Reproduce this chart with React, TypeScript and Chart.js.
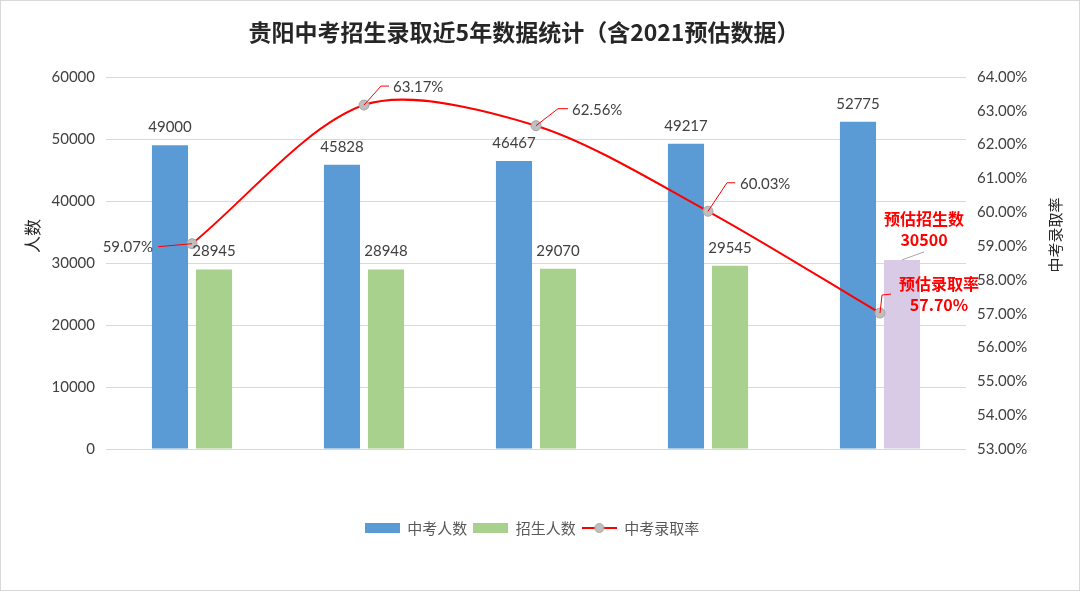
import { useEffect, useRef } from 'react';
import { Chart, registerables } from 'chart.js';

Chart.register(...registerables);

// ---------- data ----------
const years = ['2017', '2018', '2019', '2020', '2021'];
const examinees = [49000, 45828, 46467, 49217, 52775];
const enrolled = [28945, 28948, 29070, 29545, 30500];
const admissionRate = [59.07, 63.17, 62.56, 60.03, 57.02];
const rateLabels = ['59.07%', '63.17%', '62.56%', '60.03%', '57.70%'];
const seriesNames = ['中考人数', '招生人数', '中考录取率'];
const chartTitle = '贵阳中考招生录取近5年数据统计（含2021预估数据）';
const leftAxisTitle = '人数';
const rightAxisTitle = '中考录取率';
const estimateEnrollTitle = '预估招生数';
const estimateRateTitle = '预估录取率';

// ---------- style ----------
const CJK = '"Noto Sans CJK SC", "Noto Sans", sans-serif';
const NUM = 'Lato, "Noto Sans CJK SC", sans-serif';
const BLUE = '#5B9BD5';
const GREEN = '#A9D18E';
const PURPLE = '#D9CBE6';
const RED = '#FF0000';
const TEXT = '#404040';

function makeSwatch(kind: 'blue' | 'green' | 'line'): HTMLCanvasElement {
  const c = document.createElement('canvas');
  c.width = 35;
  c.height = 12;
  const g = c.getContext('2d')!;
  if (kind === 'line') {
    g.strokeStyle = RED;
    g.lineWidth = 2;
    g.beginPath();
    g.moveTo(0, 6);
    g.lineTo(35, 6);
    g.stroke();
    g.beginPath();
    g.arc(17.5, 6, 4.5, 0, Math.PI * 2);
    g.fillStyle = '#BFBFBF';
    g.fill();
    g.strokeStyle = '#A5A5A5';
    g.lineWidth = 1;
    g.stroke();
  } else {
    g.fillStyle = kind === 'blue' ? BLUE : GREEN;
    g.fillRect(0, 1, 35, 10);
  }
  return c;
}

const decorPlugin = {
  id: 'decor',
  afterDraw(chart: any) {
    const ctx = chart.ctx as CanvasRenderingContext2D;
    const W = chart.width;
    const H = chart.height;
    ctx.save();
    ctx.strokeStyle = '#D9D9D9';
    ctx.lineWidth = 1;
    ctx.strokeRect(0.5, 0.5, W - 1, H - 1);
    ctx.fillStyle = '#262626';
    ctx.font = `bold 23px ${CJK}`;
    ctx.textAlign = 'center';
    ctx.textBaseline = 'middle';
    ctx.fillText(chartTitle, 524, 32);
    ctx.font = `17px ${CJK}`;
    ctx.save();
    ctx.translate(33, 236);
    ctx.rotate(-Math.PI / 2);
    ctx.fillText(leftAxisTitle, 0, 0);
    ctx.restore();
    ctx.font = `15px ${CJK}`;
    ctx.save();
    ctx.translate(1055, 235);
    ctx.rotate(-Math.PI / 2);
    ctx.fillText(rightAxisTitle, 0, 0);
    ctx.restore();
    ctx.restore();
  },
};

// placement of line labels relative to each point: leader polyline, text anchor
const rateLabelLayout = [
  { leader: [[-34, 3], [0, 0]], tx: -39, ty: 3.5, align: 'right' },
  { leader: [[0, 0], [17, -19], [25, -19]], tx: 29, ty: -17.5, align: 'left' },
  { leader: [[0, 0], [22, -17], [32, -17]], tx: 36, ty: -16, align: 'left' },
  { leader: [[0, 0], [19, -28.5], [27, -28.5]], tx: 32, ty: -27.5, align: 'left' },
  { leader: [[0, 0], [2, -18], [11, -19]], tx: 59, ty: -29, align: 'center' },
];

const labelPlugin = {
  id: 'valueLabels',
  afterDatasetsDraw(chart: any) {
    const ctx = chart.ctx as CanvasRenderingContext2D;
    ctx.save();
    ctx.textBaseline = 'middle';
    ctx.textAlign = 'center';
    ctx.font = `15px ${NUM}`;
    ctx.fillStyle = TEXT;
    const m0 = chart.getDatasetMeta(0);
    m0.data.forEach((el: any, i: number) => {
      ctx.fillText(String(examinees[i]), el.x, el.y - 18);
    });
    const m1 = chart.getDatasetMeta(1);
    m1.data.forEach((el: any, i: number) => {
      if (i < enrolled.length - 1) {
        ctx.fillStyle = TEXT;
        ctx.font = `15px ${NUM}`;
        ctx.fillText(String(enrolled[i]), el.x, el.y - 18);
      } else {
        ctx.strokeStyle = '#A6A6A6';
        ctx.lineWidth = 1;
        ctx.beginPath();
        ctx.moveTo(el.x, el.y);
        ctx.lineTo(el.x + 22, el.y - 8);
        ctx.stroke();
        ctx.fillStyle = RED;
        ctx.font = `bold 16px ${CJK}`;
        ctx.fillText(estimateEnrollTitle, el.x + 22, el.y - 41);
        ctx.fillText(String(enrolled[i]), el.x + 22, el.y - 20);
      }
    });
    const m2 = chart.getDatasetMeta(2);
    m2.data.forEach((el: any, i: number) => {
      const L = rateLabelLayout[i];
      ctx.strokeStyle = RED;
      ctx.lineWidth = 1;
      ctx.beginPath();
      L.leader.forEach((p, k) => {
        if (k === 0) ctx.moveTo(el.x + p[0], el.y + p[1]);
        else ctx.lineTo(el.x + p[0], el.y + p[1]);
      });
      ctx.stroke();
      if (i < admissionRate.length - 1) {
        ctx.fillStyle = TEXT;
        ctx.font = `15px ${NUM}`;
        ctx.textAlign = L.align as CanvasTextAlign;
        ctx.fillText(rateLabels[i], el.x + L.tx, el.y + L.ty);
      } else {
        ctx.fillStyle = RED;
        ctx.font = `bold 16px ${CJK}`;
        ctx.textAlign = 'center';
        ctx.fillText(estimateRateTitle, el.x + L.tx, el.y + L.ty);
        ctx.fillText(rateLabels[i], el.x + L.tx, el.y + L.ty + 21);
      }
    });
    ctx.restore();
  },
};

export default function App() {
  const ref = useRef<HTMLCanvasElement | null>(null);

  useEffect(() => {
    if (!ref.current) return;
    const swatches = [makeSwatch('blue'), makeSwatch('green'), makeSwatch('line')];
    const chart = new Chart(ref.current, {
      type: 'bar',
      data: {
        labels: years,
        datasets: [
          {
            type: 'bar',
            label: seriesNames[0],
            data: examinees,
            backgroundColor: BLUE,
            yAxisID: 'y',
            order: 1,
            categoryPercentage: 0.512,
            barPercentage: 0.82,
          },
          {
            type: 'bar',
            label: seriesNames[1],
            data: enrolled,
            backgroundColor: enrolled.map((_, i) => (i === enrolled.length - 1 ? PURPLE : GREEN)),
            yAxisID: 'y',
            order: 1,
            categoryPercentage: 0.512,
            barPercentage: 0.82,
          },
          {
            type: 'line',
            label: seriesNames[2],
            data: admissionRate,
            borderColor: RED,
            borderWidth: 2,
            tension: 0.3,
            pointRadius: 5,
            pointBackgroundColor: '#BFBFBF',
            pointBorderColor: '#A5A5A5',
            pointBorderWidth: 1,
            yAxisID: 'y1',
            order: 0,
          } as any,
        ],
      },
      options: {
        responsive: false,
        animation: false,
        devicePixelRatio: 1,
        layout: { padding: { top: 77, left: 0, right: 16, bottom: 45.5 } },
        plugins: {
          title: { display: false },
          tooltip: { enabled: false },
          legend: {
            display: true,
            position: 'bottom',
            labels: {
              usePointStyle: true,
              pointStyleWidth: 35,
              boxHeight: 10,
              padding: 6,
              color: '#595959',
              font: { family: CJK, size: 15 },
              generateLabels: () =>
                seriesNames.map((t, i) => ({
                  text: t,
                  pointStyle: swatches[i] as any,
                  fillStyle: 'transparent',
                  strokeStyle: 'transparent',
                  lineWidth: 0,
                  hidden: false,
                  datasetIndex: i,
                  fontColor: '#595959',
                })),
            },
          },
        },
        scales: {
          x: {
            display: true,
            grid: { display: false },
            border: { display: false },
            ticks: { display: false },
            afterFit: (s: any) => {
              s.height = 65.5;
            },
          },
          y: {
            position: 'left',
            min: 0,
            max: 60000,
            ticks: {
              stepSize: 10000,
              padding: 11,
              color: TEXT,
              font: { family: NUM, size: 15 },
              callback: (v: any) => String(v),
            },
            grid: { color: '#D9D9D9', drawTicks: false, lineWidth: 1 },
            border: { display: false },
            afterFit: (s: any) => {
              s.width = 106;
            },
          },
          y1: {
            position: 'right',
            min: 53,
            max: 64,
            ticks: {
              stepSize: 1,
              padding: 11,
              color: TEXT,
              font: { family: NUM, size: 15 },
              callback: (v: any) => Number(v).toFixed(2) + '%',
            },
            grid: { display: false, drawTicks: false },
            border: { display: false },
            afterFit: (s: any) => {
              s.width = 98;
            },
          },
        },
      },
      plugins: [labelPlugin, decorPlugin],
    });
    return () => chart.destroy();
  }, []);

  return (
    <div style={{ position: 'fixed', left: 0, top: 0, width: 1080, height: 591, background: '#fff' }}>
      <canvas ref={ref} width={1080} height={591} style={{ display: 'block' }} />
    </div>
  );
}
